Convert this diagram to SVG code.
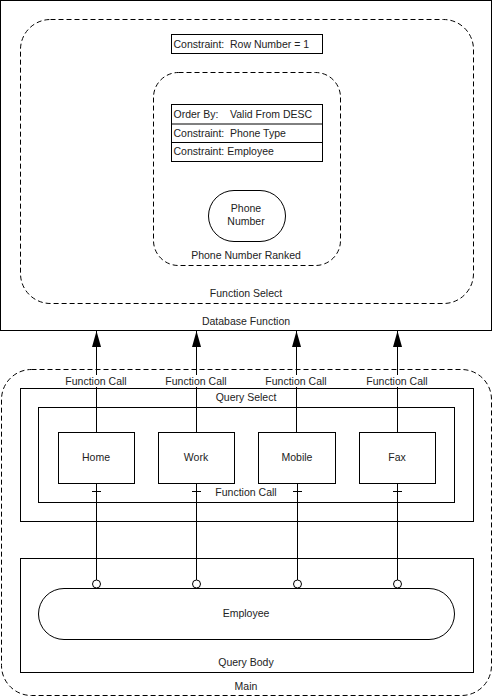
<svg xmlns="http://www.w3.org/2000/svg" width="493" height="697" viewBox="0 0 493 697">
<style>
.s{fill:#fff;stroke:#000;stroke-width:1}
.d{fill:none;stroke:#000;stroke-width:1;stroke-dasharray:5,3}
.t{font-family:"Liberation Sans",Arial,sans-serif;font-size:10.5px;fill:#222;text-anchor:middle}
.tl{font-family:"Liberation Sans",Arial,sans-serif;font-size:10.5px;fill:#222;white-space:pre}
.c{fill:none;stroke:#000;stroke-width:1}
</style>
<defs>
<marker id="arr" markerUnits="userSpaceOnUse" markerWidth="16" markerHeight="10" refX="16" refY="5" orient="auto">
<path d="M0,0.5 L16,5 L0,9.5 z" fill="#000"/>
</marker>
</defs>
<rect width="493" height="697" fill="#fff"/>
<g id="database-function">
<rect class="s" x="0.5" y="0.5" width="491" height="330"/>
<text class="t" x="246" y="325">Database Function</text>
</g>
<g id="function-select">
<rect class="d" x="20.5" y="19.5" width="453" height="284" rx="30"/>
<text class="t" x="246" y="297">Function Select</text>
</g>
<g id="constraint-row">
<rect class="s" x="171.5" y="34.5" width="151" height="19"/>
<text class="tl" x="173.5" y="47.5">Constraint:<tspan x="230">Row Number = 1</tspan></text>
</g>
<g id="phone-number-ranked">
<rect class="d" x="153.5" y="72.5" width="187" height="193" rx="25"/>
<text class="t" x="246" y="259">Phone Number Ranked</text>
</g>
<g id="constraints-table">
<rect class="s" x="171.5" y="104.5" width="151" height="57"/>
<line class="c" x1="171.5" y1="124" x2="322.5" y2="124"/>
<line class="c" x1="171.5" y1="142.5" x2="322.5" y2="142.5"/>
<text class="tl" x="173.5" y="117.5">Order By:<tspan x="230">Valid From DESC</tspan></text>
<text class="tl" x="173.5" y="136.5">Constraint:<tspan x="230">Phone Type</tspan></text>
<text class="tl" x="173.5" y="155">Constraint: Employee</text>
</g>
<g id="phone-number">
<rect class="s" x="208.5" y="190.5" width="77" height="51" rx="25.5"/>
<text class="t" x="246" y="212">Phone</text>
<text class="t" x="246" y="225">Number</text>
</g>
<g id="main">
<rect class="d" x="1.5" y="369.5" width="490" height="326" rx="30"/>
<text class="t" x="246" y="690">Main</text>
</g>
<g id="query-select">
<rect class="s" x="20.5" y="388.5" width="453" height="133"/>
<text class="t" x="246" y="401">Query Select</text>
</g>
<g id="function-call-box">
<rect class="s" x="38.5" y="407.5" width="416" height="95"/>
</g>
<g id="home">
<rect class="s" x="58.5" y="432.5" width="76" height="51"/>
<text class="t" x="96" y="461">Home</text>
</g>
<g id="work">
<rect class="s" x="158.5" y="432.5" width="76" height="51"/>
<text class="t" x="196" y="461">Work</text>
</g>
<g id="mobile">
<rect class="s" x="258.5" y="432.5" width="77" height="51"/>
<text class="t" x="297" y="461">Mobile</text>
</g>
<g id="fax">
<rect class="s" x="359.5" y="432.5" width="76" height="51"/>
<text class="t" x="397" y="461">Fax</text>
</g>
<g id="query-body">
<rect class="s" x="20.5" y="558.5" width="453" height="114"/>
<text class="t" x="246" y="666">Query Body</text>
</g>
<g id="employee">
<rect class="s" x="38.5" y="588.5" width="416" height="51" rx="25.5"/>
<text class="t" x="246" y="617">Employee</text>
</g>
<g id="connectors">
<path class="c" d="M96.5,432 V331" marker-end="url(#arr)"/>
<path class="c" d="M196.5,432 V331" marker-end="url(#arr)"/>
<path class="c" d="M296.5,432 V331" marker-end="url(#arr)"/>
<path class="c" d="M397.5,432 V331" marker-end="url(#arr)"/>
<path class="c" d="M96.5,483 V580 M196.5,483 V580 M297.5,483 V580 M397.5,483 V580"/>
<path class="c" d="M92,491.5 H101 M192,491.5 H201 M293,491.5 H302 M393,491.5 H402"/>
<circle class="s" cx="96.5" cy="584" r="4"/>
<circle class="s" cx="196.5" cy="584" r="4"/>
<circle class="s" cx="297.5" cy="584" r="4"/>
<circle class="s" cx="397.5" cy="584" r="4"/>
<g>
<rect x="64" y="375" width="64" height="12" fill="#fff"/>
<rect x="164" y="375" width="64" height="12" fill="#fff"/>
<rect x="264" y="375" width="64" height="12" fill="#fff"/>
<rect x="365" y="375" width="64" height="12" fill="#fff"/>
<text class="t" x="96" y="385">Function Call</text>
<text class="t" x="196" y="385">Function Call</text>
<text class="t" x="296" y="385">Function Call</text>
<text class="t" x="397" y="385">Function Call</text>
</g>
<rect x="214" y="486" width="64" height="12" fill="#fff"/>
<text class="t" x="246" y="496">Function Call</text>
</g>
</svg>
